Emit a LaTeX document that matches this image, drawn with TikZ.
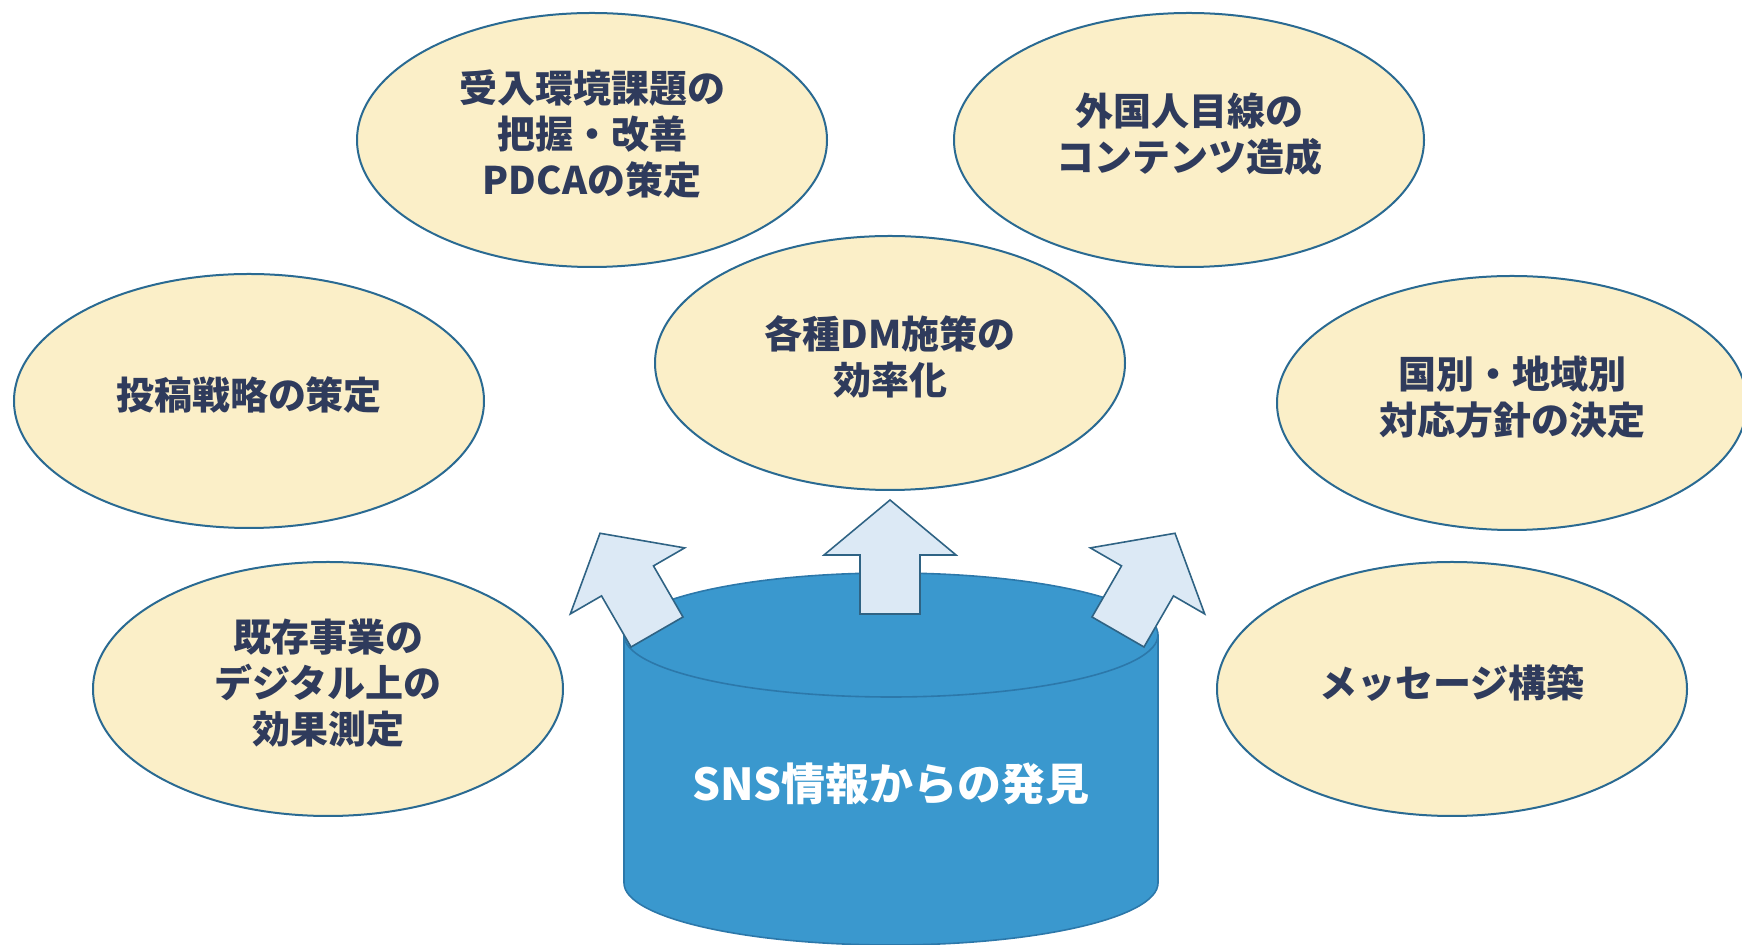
\documentclass[tikz,border=0pt]{standalone}
\usepackage{fontspec}
\setmainfont{Noto Sans CJK JP}
\usetikzlibrary{shapes.geometric}

\definecolor{ideafill}{HTML}{FBEFC8}
\definecolor{edgeblue}{HTML}{2A6A92}
\definecolor{inknavy}{HTML}{2F3B5C}
\definecolor{cylblue}{HTML}{3A98CE}
\definecolor{cyledge}{HTML}{2C78AA}
\definecolor{arrowfill}{HTML}{DCE9F5}
\definecolor{arrowedge}{HTML}{2F6384}

\tikzset{
	pics/blockup/.style={code={
		\draw[upblock] (-30,0) -- (-30,-59) -- (-66,-59) -- (0,-114)
			-- (66,-59) -- (30,-59) -- (30,0) -- cycle;
	}}
}

\begin{document}
\begin{tikzpicture}[x=0.5pt, y=-0.5pt,
	idea/.style={ellipse, draw=edgeblue, line width=1pt, fill=ideafill,
		inner sep=0pt, minimum width=235pt, minimum height=127pt, text depth=8pt,
		align=center, text=inknavy, font=\fontsize{19}{23}\selectfont\bfseries},
	cyl/.style={fill=cylblue, draw=cyledge, line width=0.8pt},
	upblock/.style={fill=arrowfill, draw=arrowedge, line width=0.8pt, line join=miter}]
	
	\useasboundingbox (0,0) rectangle (1742,945);
	
	% ----- TOP ROW
	\node[idea] (kadai) at (592,140) {受入環境課題の\\把握・改善\\PDCAの策定};
	\node[idea] (gaikoku) at (1189,140) {外国人目線の\\コンテンツ造成};
	
	% ----- MIDDLE ROW
	\node[idea] (toukou) at (249,401) {投稿戦略の策定};
	\node[idea] (dm) at (890,363) {各種DM施策の\\効率化};
	\node[idea] (kunibetsu) at (1512,403) {国別・地域別\\対応方針の決定};
	
	% ----- BOTTOM ROW
	\node[idea] (kizon) at (328,689) {既存事業の\\デジタル上の\\効果測定};
	\node[idea] (message) at (1452,689) {メッセージ構築};
	
	% ----- the SNS cylinder
	\filldraw[cyl] (891,883) ellipse [x radius=267, y radius=62];
	\fill[cylblue] (624,635) rectangle (1158,883);
	\draw[cyl] (624,635) -- (624,883) (1158,635) -- (1158,883);
	\filldraw[cyl] (891,635) ellipse [x radius=267, y radius=62];
	\node[text=white, font=\fontsize{22}{26}\selectfont\bfseries] (sns) at (891,784) {SNS情報からの発見};
	
	% block arrows out of the cylinder
	\pic[rotate=30] at (657,632) {blockup};
	\pic at (890,614) {blockup};
	\pic[rotate=-30] at (1118,632) {blockup};
	
\end{tikzpicture}
\end{document}
